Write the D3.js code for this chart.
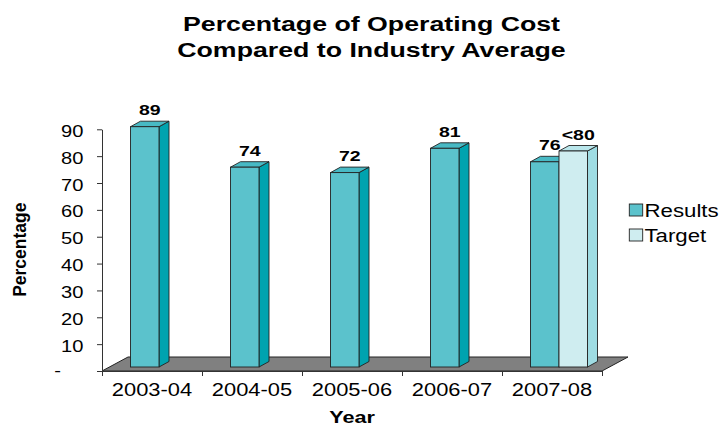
<!DOCTYPE html>
<html><head><meta charset="utf-8">
<script src="https://cdn.jsdelivr.net/npm/d3@7"></script>
<style>
html,body{margin:0;padding:0;background:#fff;}
text{font-family:"Liberation Sans",Arial,sans-serif;fill:#000;}
</style></head>
<body><svg id="c" width="722" height="426"></svg>
<script>
const years = ["2003-04","2004-05","2005-06","2006-07","2007-08"];
const seriesNames = ["Results","Target"];
const results = [89,74,72,81,76];
const target = [null,null,null,null,80];
const targetLabels = [null,null,null,null,"<80"];
const yTicks = [0,10,20,30,40,50,60,70,80,90];
const titleLines = ["Percentage of Operating Cost","Compared to Industry Average"];

const colors = {
  Results:{front:"#5BC2CC", side:"#00A3AF", top:"#48B9C4"},
  Target:{front:"#CFEDF0", side:"#9FDCE3", top:"#B9E6EB"}
};

const svg = d3.select("#c");

function stretch(sel,k){
  sel.each(function(){
    const w=this.getComputedTextLength();
    this.setAttribute("textLength", w*k);
    this.setAttribute("lengthAdjust","spacingAndGlyphs");
  });
}

const x0 = d3.scaleBand().domain(years).range([102,602]).padding(0);
const x1 = d3.scaleBand().domain(seriesNames).range([28.5,85.5]).padding(0);
const y = d3.scaleLinear().domain([0,90]).range([371,129.3]);
const yBar = d3.scaleLinear().domain([0,90]).range([367,124]);
const floorD = {dx:26, dy:-14};
const barD = {dx:10, dy:-5.5};

// floor
const [fx0,fx1] = x0.range();
svg.append("polygon")
  .attr("points",[[fx0,y(0)],[fx0+floorD.dx,y(0)+floorD.dy],[fx1+floorD.dx,y(0)+floorD.dy],[fx1,y(0)]].map(p=>p.join(",")).join(" "))
  .attr("fill","#808080").attr("stroke","#222").attr("stroke-width",1);

// y axis
const gy = svg.append("g").attr("transform","translate(102,0)")
  .call(d3.axisLeft(y).tickValues(yTicks).tickSize(5).tickSizeOuter(0).tickPadding(13.5)
    .tickFormat(d=>d===0?"-":d3.format("d")(d)));
gy.select(".domain").attr("stroke","#333");
gy.selectAll(".tick line").attr("stroke","#333");
gy.selectAll(".tick text").attr("font-size",16.5).attr("dy","0.43em")
  .attr("font-family",null).call(stretch,1.22);
gy.selectAll(".tick text").filter(d=>d===0).attr("dx",-22.5).attr("dy","0.3em");

// x axis boundary ticks
const xb = d3.scaleLinear().domain([0,years.length]).range(x0.range());
const gxb = svg.append("g").attr("transform",`translate(0,${y(0)})`)
  .call(d3.axisBottom(xb).tickValues(d3.range(years.length+1)).tickSize(5).tickSizeOuter(0).tickFormat(""));
gxb.select(".domain").attr("stroke","#333");
gxb.selectAll(".tick line").attr("stroke","#333");
// x labels
const gx = svg.append("g").attr("transform",`translate(0,${y(0)})`)
  .call(d3.axisBottom(x0).tickSize(0).tickPadding(12.6));
gx.select(".domain").remove();
gx.selectAll(".tick text").attr("font-size",17.5).attr("font-family",null).call(stretch,1.25);

// bars
const barData = [];
years.forEach((yr,i)=>{
  if(results[i]!=null) barData.push({yr,s:"Results",v:results[i],label:d3.format("d")(results[i])});
  if(target[i]!=null) barData.push({yr,s:"Target",v:target[i],label:targetLabels[i]});
});
const bw = x1.bandwidth();
const bars = svg.append("g").selectAll("g").data(barData).join("g");
bars.each(function(d){
  const g=d3.select(this);
  const xl = x0(d.yr)+x1(d.s), yt=yBar(d.v), yb=yBar(0);
  const c = colors[d.s];
  g.append("polygon").attr("points",[[xl+bw,yb],[xl+bw+barD.dx,yb+barD.dy],[xl+bw+barD.dx,yt+barD.dy],[xl+bw,yt]].map(p=>p.join(",")).join(" "))
    .attr("fill",c.side).attr("stroke","#222").attr("stroke-width",0.9).attr("stroke-linejoin","round");
  g.append("polygon").attr("points",[[xl,yt],[xl+barD.dx,yt+barD.dy],[xl+bw+barD.dx,yt+barD.dy],[xl+bw,yt]].map(p=>p.join(",")).join(" "))
    .attr("fill",c.top).attr("stroke","#222").attr("stroke-width",0.9).attr("stroke-linejoin","round");
  g.append("rect").attr("x",xl).attr("y",yt).attr("width",bw).attr("height",yb-yt)
    .attr("fill",c.front).attr("stroke","#222").attr("stroke-width",0.9);
});
// labels
const lbl = svg.append("g").selectAll("text").data(barData).join("text")
  .attr("x",d=>x0(d.yr)+x1(d.s)+bw/2+barD.dx/2)
  .attr("y",d=>yBar(d.v)-11.5)
  .attr("text-anchor","middle").attr("font-size",15).attr("font-weight","bold")
  .text(d=>d.label);
lbl.call(stretch,1.3);

// axis titles
svg.append("text").attr("x",(fx0+fx1)/2).attr("y",423.3).attr("text-anchor","middle")
  .attr("font-size",16.5).attr("font-weight","bold").text("Year").call(stretch,1.31);
svg.append("text").attr("transform","translate(26,249.7) rotate(-90)").attr("text-anchor","middle")
  .attr("font-size",17.5).attr("font-weight","bold").text("Percentage").call(stretch,1.0);

// title
svg.append("g").selectAll("text").data(titleLines).join("text")
  .attr("x",371.5).attr("y",(d,i)=>31.3+i*25.7).attr("text-anchor","middle")
  .attr("font-size",19.5).attr("font-weight","bold").text(d=>d).call(stretch,1.37);

// legend
const lg = svg.append("g").selectAll("g").data(seriesNames).join("g")
  .attr("transform",(d,i)=>`translate(0,${i*25})`);
lg.append("rect").attr("x",629.3).attr("y",204).attr("width",13.4).attr("height",12)
  .attr("fill",d=>colors[d].front).attr("stroke","#222").attr("stroke-width",0.9);
lg.append("text").attr("x",644.5).attr("y",216.5).attr("font-size",17.5).text(d=>d).call(stretch,1.27);
</script></body></html>
